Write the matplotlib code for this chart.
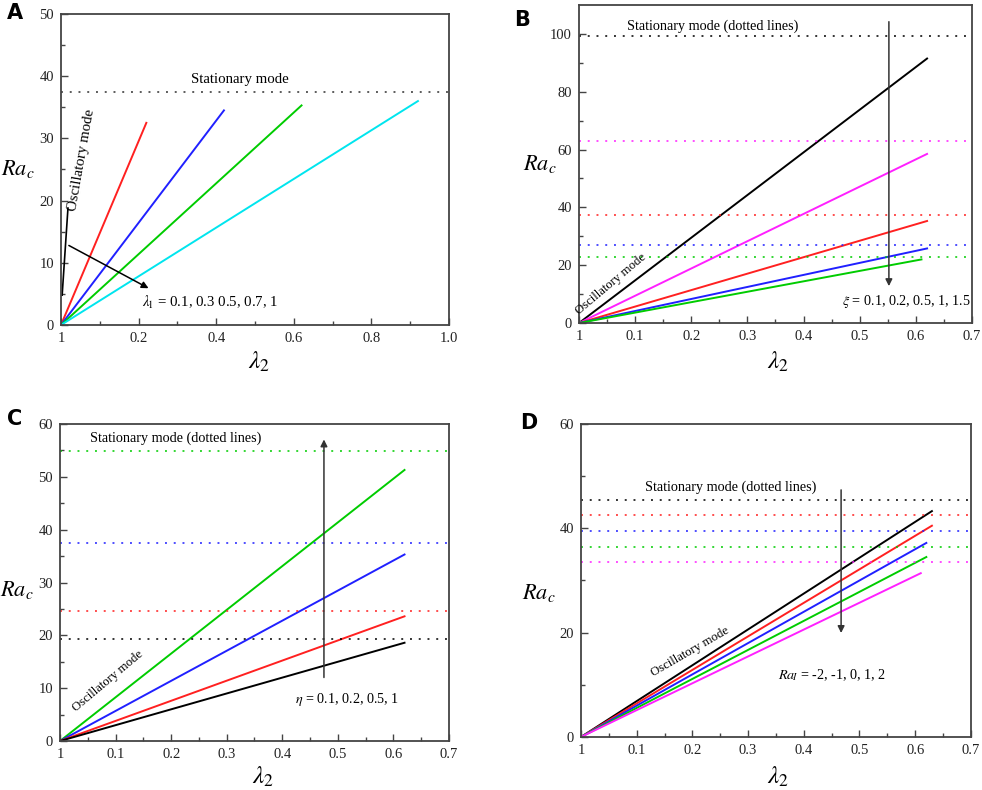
"""Critical Rayleigh number vs lambda_2, four parameter sweeps (panels A-D)."""

import matplotlib

matplotlib.use("Agg")
import matplotlib.pyplot as plt

plt.rcParams["font.family"] = ["Liberation Serif", "DejaVu Serif"]
plt.rcParams["mathtext.fontset"] = "stix"

# Panel A: lambda_1 sweep (oscillatory lines end points), one stationary line
a_colors = ["#ff2020", "#2020ff", "#00cc00", "#00e5ee"]
a_end_x = [0.22, 0.42, 0.62, 0.92]
a_end_y = [32.5, 34.5, 35.3, 36.0]
a_stationary = [37.4]
a_stat_colors = ["#333333"]

# Panel B: xi sweep
b_colors = ["#000000", "#ff20ff", "#ff2020", "#2020ff", "#00cc00"]
b_end_x = [0.62, 0.62, 0.62, 0.62, 0.61]
b_end_y = [91.5, 58.5, 35.3, 25.8, 22.0]
b_stationary = [99.3, 62.8, 37.3, 27.0, 23.0]

# Panel C: eta sweep
c_colors = ["#00cc00", "#2020ff", "#ff2020", "#000000"]
c_end_x = [0.62, 0.62, 0.62, 0.62]
c_end_y = [51.3, 35.3, 23.6, 18.6]
c_stationary = [54.8, 37.4, 24.7, 19.3]

# Panel D: Ra_I sweep
d_colors = ["#000000", "#ff2020", "#2020ff", "#00cc00", "#ff20ff"]
d_end_x = [0.63, 0.63, 0.62, 0.62, 0.61]
d_end_y = [43.3, 40.5, 37.2, 34.5, 31.4]
d_stationary = [45.5, 42.5, 39.5, 36.5, 33.5]

x_ticks_short = [0, 0.1, 0.2, 0.3, 0.4, 0.5, 0.6, 0.7]
x_labels_short = ["1", "0.1", "0.2", "0.3", "0.4", "0.5", "0.6", "0.7"]
x_ticks_long = [0, 0.2, 0.4, 0.6, 0.8, 1.0]
x_labels_long = ["1", "0.2", "0.4", "0.6", "0.8", "1.0"]

TICK_FS = 10.5
TEXT_FS = 10.2
SPINE = "#444444"
DOT = (0, (1, 3.5))


def style_axes(ax, xticks, xlabels, xminor, xlim, yticks, yminor, ylim, ylab_xy, xlab_xy):
	ax.set_xlim(*xlim)
	ax.set_ylim(*ylim)
	ax.set_xticks(xticks)
	ax.set_xticklabels(xlabels)
	ax.set_xticks(xminor, minor=True)
	ax.set_yticks(yticks)
	ax.set_yticks(yminor, minor=True)
	ax.tick_params(which="both", direction="in", colors=SPINE, labelcolor="#222222",
		labelsize=TICK_FS, width=1.0)
	ax.tick_params(which="major", length=5, pad=5)
	ax.tick_params(which="minor", length=3)
	for spine in ax.spines.values():
		spine.set_color(SPINE)
		spine.set_linewidth(1.3)
	ax.set_ylabel(r"$Ra_c$", rotation=0, fontsize=16, ha="center", va="center")
	ax.yaxis.set_label_coords(*ylab_xy)
	ax.set_xlabel(r"$\lambda_2$", fontsize=18, ha="center", va="center")
	ax.xaxis.set_label_coords(*xlab_xy)


def draw_lines(ax, end_x, end_y, colors, stationary, stat_colors):
	for ex, ey, col in zip(end_x, end_y, colors):
		ax.plot([0, ex], [0, ey], color=col, lw=1.4)
	for val, col in zip(stationary, stat_colors):
		ax.axhline(val, color=col, lw=1.4, linestyle=DOT, alpha=0.8)


fig = plt.figure(figsize=(9.82, 7.90), dpi=100)

# ---- Panel A
ax_a = fig.add_axes([0.0621, 0.5886, 0.3951, 0.3937])
draw_lines(ax_a, a_end_x, a_end_y, a_colors, a_stationary, a_stat_colors)
style_axes(ax_a, x_ticks_long, x_labels_long, [0.1, 0.3, 0.5, 0.7, 0.9], (0, 1.0),
	[0, 10, 20, 30, 40, 50], [5, 15, 25, 35, 45], (0, 50), (-0.112, 0.5), (0.51, -0.12))
ax_a.text(0.46, 39.5, "Stationary mode", fontsize=TEXT_FS + 0.5, ha="center", va="center")
ax_a.text(0.052, 26.5, "Oscillatory mode", fontsize=TEXT_FS + 0.5, rotation=80,
	ha="center", va="center")
ax_a.plot([0.018, 0.003], [18.8, 4.8], color="black", lw=1.2)
ax_a.annotate("", xy=(0.232, 5.7), xytext=(0.014, 13.0),
	arrowprops=dict(arrowstyle="-|>", color="black", lw=1.1, mutation_scale=10))
ax_a.text(0.21, 3.6, r"$\lambda_{\!1}$ = 0.1, 0.3 0.5, 0.7, 1", fontsize=TEXT_FS + 0.5,
	ha="left", va="center")

# ---- Panel B
ax_b = fig.add_axes([0.5896, 0.5911, 0.4002, 0.4025])
draw_lines(ax_b, b_end_x, b_end_y, b_colors, b_stationary, b_colors)
style_axes(ax_b, x_ticks_short, x_labels_short, [0.05, 0.15, 0.25, 0.35, 0.45, 0.55, 0.65],
	(0, 0.7), [0, 20, 40, 60, 80, 100], [10, 30, 50, 70, 90], (0, 110),
	(-0.099, 0.5), (0.506, -0.123))
ax_b.text(0.0855, 102.6, "Stationary mode (dotted lines)", fontsize=TEXT_FS,
	ha="left", va="center")
ax_b.text(0.057, 13.5, "Oscillatory mode", fontsize=TEXT_FS - 1, rotation=40,
	ha="center", va="center")
ax_b.annotate("", xy=(0.552, 11.8), xytext=(0.552, 105.2),
	arrowprops=dict(arrowstyle="-|>", color="#333333", lw=1.1, mutation_scale=10))
ax_b.text(0.468, 7.3, r"$\xi$ = 0.1, 0.2, 0.5, 1, 1.5", fontsize=TEXT_FS,
	ha="left", va="center")

# ---- Panel C
ax_c = fig.add_axes([0.0611, 0.0620, 0.3961, 0.4013])
draw_lines(ax_c, c_end_x, c_end_y, c_colors, c_stationary, c_colors)
style_axes(ax_c, x_ticks_short, x_labels_short, [0.05, 0.15, 0.25, 0.35, 0.45, 0.55, 0.65],
	(0, 0.7), [0, 10, 20, 30, 40, 50, 60], [5, 15, 25, 35, 45, 55], (0, 60),
	(-0.111, 0.476), (0.522, -0.114))
ax_c.text(0.054, 57.3, "Stationary mode (dotted lines)", fontsize=TEXT_FS,
	ha="left", va="center")
ax_c.text(0.086, 11.4, "Oscillatory mode", fontsize=TEXT_FS - 1, rotation=40,
	ha="center", va="center")
ax_c.annotate("", xy=(0.475, 57.6), xytext=(0.475, 11.5),
	arrowprops=dict(arrowstyle="-|>", color="#333333", lw=1.1, mutation_scale=10))
ax_c.text(0.423, 7.9, r"$\eta$ = 0.1, 0.2, 0.5, 1", fontsize=TEXT_FS,
	ha="left", va="center")

# ---- Panel D
ax_d = fig.add_axes([0.5916, 0.0671, 0.3971, 0.3962])
draw_lines(ax_d, d_end_x, d_end_y, d_colors, d_stationary, d_colors)
style_axes(ax_d, x_ticks_short, x_labels_short, [0.05, 0.15, 0.25, 0.35, 0.45, 0.55, 0.65],
	(0, 0.7), [0, 20, 40, 60], [10, 30, 50], (0, 60),
	(-0.108, 0.46), (0.506, -0.128))
ax_d.text(0.115, 47.8, "Stationary mode (dotted lines)", fontsize=TEXT_FS,
	ha="left", va="center")
ax_d.text(0.196, 16.3, "Oscillatory mode", fontsize=TEXT_FS - 1, rotation=30,
	ha="center", va="center")
ax_d.annotate("", xy=(0.467, 19.4), xytext=(0.467, 47.9),
	arrowprops=dict(arrowstyle="-|>", color="#333333", lw=1.1, mutation_scale=10))
ax_d.text(0.354, 11.9, r"$Ra_{\!I}$ = -2, -1, 0, 1, 2", fontsize=TEXT_FS,
	ha="left", va="center")

# panel letters
for label, px, py in [("A", 15, 13), ("B", 522, 20), ("C", 15, 419), ("D", 529, 423)]:
	fig.text(px / 982, 1 - py / 790, label, fontsize=15, fontweight="bold",
		family="DejaVu Sans", ha="center", va="center")

fig.savefig("out.png", dpi=100)
